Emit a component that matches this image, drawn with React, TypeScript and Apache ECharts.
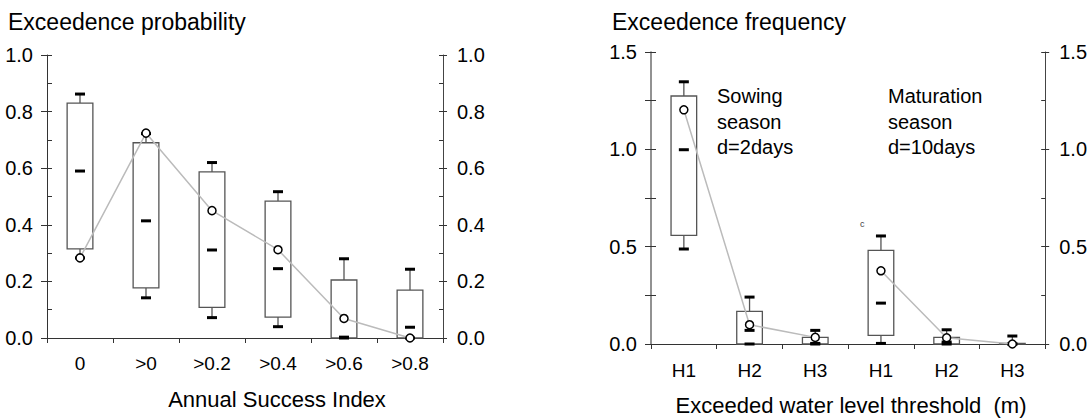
import React, { useEffect, useRef } from "react";
import * as echarts from "echarts";

const leftCategories = ["0", ">0", ">0.2", ">0.4", ">0.6", ">0.8"];
// [low whisker, Q1, median, Q3, high whisker]
const leftBoxes = [
  [0.283, 0.315, 0.59, 0.83, 0.862],
  [0.142, 0.177, 0.414, 0.69, 0.722],
  [0.072, 0.108, 0.311, 0.587, 0.62],
  [0.04, 0.074, 0.245, 0.484, 0.517],
  [0.0, 0.0, 0.003, 0.205, 0.28],
  [0.0, 0.0, 0.038, 0.169, 0.243],
];
const leftMeans = [0.283, 0.724, 0.45, 0.312, 0.069, 0.0];

const rightCategories = ["H1", "H2", "H3", "H1", "H2", "H3"];
const rightBoxes = [
  [0.488, 0.558, 0.998, 1.274, 1.347],
  [0.0, 0.0, 0.07, 0.168, 0.241],
  [0.0, 0.0, 0.003, 0.034, 0.07],
  [0.003, 0.044, 0.21, 0.481, 0.555],
  [0.0, 0.0, 0.01, 0.034, 0.073],
  [0.0, 0.0, 0.0, 0.003, 0.041],
];
const sowingMeans = [1.203, 0.099, 0.034, "-", "-", "-"];
const maturationMeans = ["-", "-", "-", 0.376, 0.032, 0.0];

const leftYTicks = { min: 0, max: 1, interval: 0.2 };
const rightYTicks = { min: 0, max: 1.5, interval: 0.5 };

const FONT = "'Liberation Sans', Arial, Helvetica, sans-serif";

function renderBox(params: any, api: any) {
  const idx = api.value(0);
  const low = api.coord([idx, api.value(1)]);
  const q1 = api.coord([idx, api.value(2)]);
  const med = api.coord([idx, api.value(3)]);
  const q3 = api.coord([idx, api.value(4)]);
  const high = api.coord([idx, api.value(5)]);
  const bw = api.size([1, 0])[0] * 0.39;
  const cx = low[0];
  const capHalf = 5;
  const grayLine = { stroke: "#555", lineWidth: 1.3 };
  const dash = { stroke: "#000", lineWidth: 3 };
  return {
    type: "group",
    children: [
      { type: "line", shape: { x1: cx, y1: q3[1], x2: cx, y2: high[1] }, style: grayLine },
      { type: "line", shape: { x1: cx, y1: q1[1], x2: cx, y2: low[1] }, style: grayLine },
      {
        type: "rect",
        shape: { x: cx - bw / 2, y: q3[1], width: bw, height: q1[1] - q3[1] },
        style: { fill: "#fff", stroke: "#555", lineWidth: 1.3 },
      },
      { type: "line", shape: { x1: cx - capHalf, y1: high[1], x2: cx + capHalf, y2: high[1] }, style: dash },
      { type: "line", shape: { x1: cx - capHalf, y1: low[1], x2: cx + capHalf, y2: low[1] }, style: dash },
      { type: "line", shape: { x1: cx - capHalf, y1: med[1], x2: cx + capHalf, y2: med[1] }, style: dash },
    ],
  };
}

function yAxes(gridIndex: number, ticks: any, leftColor: string, leftWidth: number, leftMinorCross: boolean) {
  const base = {
    type: "value",
    gridIndex,
    min: ticks.min,
    max: ticks.max,
    interval: ticks.interval,
    splitLine: { show: false },
  };
  const label = {
    show: true,
    fontSize: 20,
    color: "#000",
    fontFamily: FONT,
    margin: 14,
    formatter: (v: number) => v.toFixed(1),
  };
  return [
    {
      ...base,
      position: "left",
      axisLine: { show: true, lineStyle: { color: leftColor, width: leftWidth } },
      axisTick: { show: true, inside: true, length: 5, lineStyle: { color: "#333" } },
      minorTick: { show: true, splitNumber: 2, length: 5, lineStyle: { color: "#333" } },
      axisLabel: label,
    },
    {
      ...base,
      position: "left",
      axisLine: { show: false },
      axisTick: { show: true, inside: false, length: 6, lineStyle: { color: "#333" } },
      minorTick: { show: leftMinorCross, splitNumber: 2, length: 6, lineStyle: { color: "#333" } },
      axisLabel: { show: false },
    },
    {
      ...base,
      position: "right",
      axisLine: { show: true, lineStyle: { color: "#444", width: 1 } },
      axisTick: { show: true, inside: true, length: 4, lineStyle: { color: "#333" } },
      minorTick: { show: true, splitNumber: 2, length: 4, lineStyle: { color: "#333" } },
      axisLabel: { ...label, margin: 14 },
    },
    {
      ...base,
      position: "right",
      axisLine: { show: false },
      axisTick: { show: true, inside: false, length: 4, lineStyle: { color: "#333" } },
      minorTick: { show: false },
      axisLabel: { show: false },
    },
  ];
}

function xAxis(gridIndex: number, data: string[], margin: number) {
  return {
    type: "category",
    gridIndex,
    data,
    boundaryGap: true,
    axisLine: { show: true, lineStyle: { color: "#333", width: 1 } },
    axisTick: { show: true, inside: false, length: 5, interval: 0, lineStyle: { color: "#333" } },
    axisLabel: { show: true, interval: 0, fontSize: 19, color: "#000", fontFamily: FONT, margin },
    splitLine: { show: false },
  };
}

function txt(text: string, x: number, y: number, size: number, align = "left", fill = "#000") {
  return {
    type: "text",
    x,
    y,
    style: {
      text,
      font: `${size}px ${FONT}`,
      fill,
      align,
      textAlign: align,
      verticalAlign: "middle",
      textVerticalAlign: "middle",
    },
  };
}

export default function App() {
  const ref = useRef<HTMLDivElement>(null);
  useEffect(() => {
    document.body.style.margin = "0";
    const chart = echarts.init(ref.current!, null, { renderer: "svg" });
    const lineStyle = { color: "#bbb", width: 1.5 };
    const pointStyle = { color: "#fff", borderColor: "#000", borderWidth: 1.5 };
    chart.setOption({
      animation: false,
      backgroundColor: "#fff",
      grid: [
        { left: 47, top: 55, width: 396, height: 283 },
        { left: 651, top: 52, width: 396, height: 292 },
      ],
      xAxis: [xAxis(0, leftCategories, 16), xAxis(1, rightCategories, 17)],
      yAxis: [
        ...yAxes(0, leftYTicks, "#333", 1, false),
        ...yAxes(1, rightYTicks, "#777", 1.6, true),
      ],
      series: [
        {
          type: "custom",
          xAxisIndex: 0,
          yAxisIndex: 0,
          renderItem: renderBox,
          encode: { x: 0, y: [1, 2, 3, 4, 5] },
          data: leftBoxes.map((b, i) => [i, ...b]),
          z: 2,
        },
        {
          type: "line",
          xAxisIndex: 0,
          yAxisIndex: 0,
          data: leftMeans,
          symbol: "circle",
          symbolSize: 8,
          lineStyle,
          itemStyle: pointStyle,
          z: 5,
        },
        {
          type: "custom",
          xAxisIndex: 1,
          yAxisIndex: 4,
          renderItem: renderBox,
          encode: { x: 0, y: [1, 2, 3, 4, 5] },
          data: rightBoxes.map((b, i) => [i, ...b]),
          z: 2,
        },
        {
          type: "line",
          xAxisIndex: 1,
          yAxisIndex: 4,
          data: sowingMeans,
          symbol: "circle",
          symbolSize: 8,
          lineStyle,
          itemStyle: pointStyle,
          connectNulls: false,
          z: 5,
        },
        {
          type: "line",
          xAxisIndex: 1,
          yAxisIndex: 4,
          data: maturationMeans,
          symbol: "circle",
          symbolSize: 8,
          lineStyle,
          itemStyle: pointStyle,
          connectNulls: false,
          z: 5,
        },
      ],
      graphic: [
        txt("Exceedence probability", 8, 22, 23),
        txt("Exceedence frequency", 612, 22, 23),
        txt("Annual Success Index", 277, 399, 22, "center"),
        txt("Exceeded water level threshold  (m)", 851, 405, 22, "center"),
        txt("Sowing", 717, 96, 20),
        txt("season", 717, 122, 20),
        txt("d=2days", 717, 147, 20),
        txt("Maturation", 888, 96, 20),
        txt("season", 888, 122, 20),
        txt("d=10days", 888, 147, 20),
        txt("c", 860, 224, 9, "left", "#444"),
      ],
    });
    return () => chart.dispose();
  }, []);
  return <div ref={ref} style={{ position: "absolute", left: 0, top: 0, width: 1090, height: 420 }} />;
}
